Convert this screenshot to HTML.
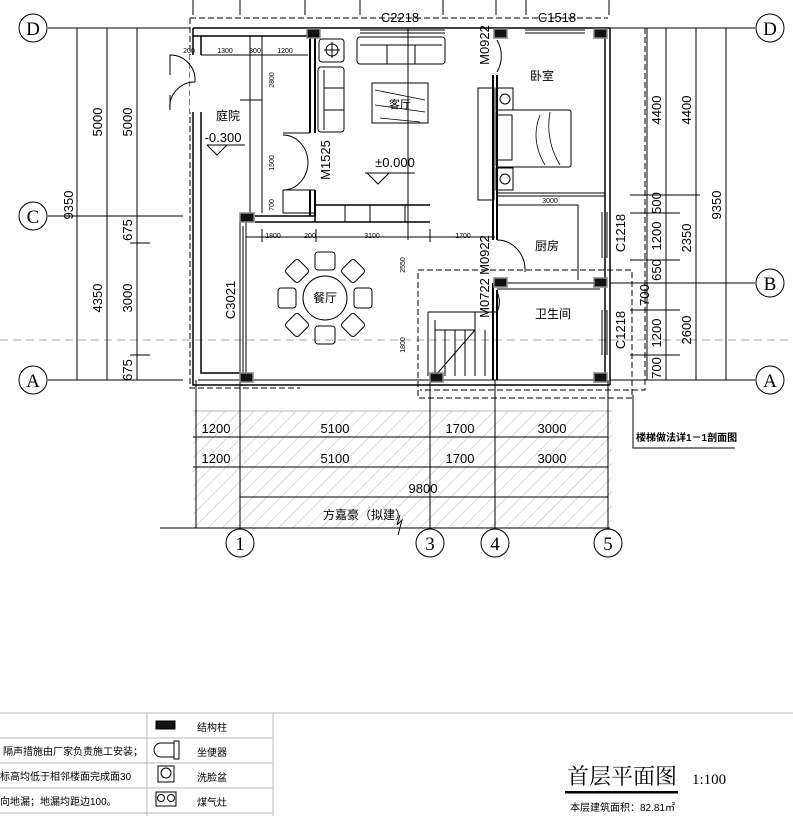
<!DOCTYPE html>
<html><head><meta charset="utf-8"><style>
html,body{margin:0;padding:0;background:#fff;}
svg{display:block;font-family:"Liberation Sans","Noto Sans CJK SC",sans-serif;}
</style></head><body>
<svg width="793" height="816" viewBox="0 0 793 816" xmlns="http://www.w3.org/2000/svg">
<defs>
<pattern id="h" width="10" height="10" patternUnits="userSpaceOnUse" patternTransform="rotate(45)">
<line x1="0" y1="0" x2="0" y2="10" stroke="#999" stroke-width="0.7"/></pattern>
</defs>
<g stroke="#000" fill="none" stroke-width="1">
<path d="M193 0V15M240 0V15M305 0V15M360 0V15M443 0V15M496 0V15M526 0V15M609 0V15"/>
<line x1="0" y1="340" x2="793" y2="340" stroke="#aaa" stroke-dasharray="8,5"/>
<path d="M48 28H190M48 216H183M48 380H183M610 28H755M610 283H755M610 380H755"/>
<path d="M77 28V380M107 28V380M137 28V380M70 28H150M70 216H150M130 243H150M130 355H150M70 380H150"/>
<path d="M647 28V380M666 28V380M696 28V380M726 28V380M630 195H700M630 213H680M630 260H680M630 283H740M630 310H680M630 355H680M630 380H740M640 28H740"/>
<path stroke-dasharray="6,3" d="M190 18H608M190 18V388H300M645 28V390H420M418 270H632V398H418V270"/>
<path stroke-width="1.5" d="M193 28H610M193 36H308M193 28V385H610M201 36V373H240M610 28V385M605 36V380"/>
<path d="M198 380H605"/>
<path d="M360 30H445M360 33H445M525 30H585M525 33H585"/>
<path fill="#fff" stroke="none" d="M190 55H203V112H190Z"/>
<path d="M170 55A25 25 0 0 1 195 82M170 110A25 25 0 0 1 195 82M170 55V75M170 95V110"/>
<path d="M201 36H310M201 55H308M250 36V213M262 36V213M240 100H262"/>
<path stroke-width="2" d="M310 36V133M315 36V133M310 190V216M315 190V216"/>
<path d="M283 133H310M283 190H315M283 190V213H315M283 135A25 28 0 0 1 308 162M283 190A25 28 0 0 0 308 162"/>
<path stroke-width="1.5" d="M255 216H315M255 222H430M315 205H430M315 205V222"/>
<path d="M345 205V222M370 205V222M405 205V222"/>
<path d="M240 222V380M246 222V380M243 226V376"/>
<path d="M246 237H495M262 229V242M316 229V242M430 229V242"/>
<line x1="408" y1="28" x2="408" y2="240"/>
<path stroke-width="2" d="M493 75V240M497 75V193M497 193V240M493 283V380M497 290V380"/>
<path d="M497 193H605M497 196H605M497 283H600M497 289H600M497 205H578V280"/>
<path d="M497 40A28 30 0 0 1 497 72M497 240A28 30 0 0 1 525 272M497 292A22 22 0 0 1 497 312"/>
<path d="M602 212V258M607 212V258M602 310V355M607 310V355"/>
<path d="M428 312H496M428 312V376M435 320V376M435 330H475M475 312V376M445 330V376M455 330V376M465 330V376M485 330V376M435 376L475 330"/>
<path d="M633 395V448H735"/>
</g>
<rect x="193" y="411" width="419" height="117" fill="url(#h)"/>
<g stroke="#000" fill="none">
<path d="M193 411H612" stroke="#bbb"/>
<path d="M193 437H608M193 467H608M240 497H608M160 528H610M400 515L397 525L402 520L398 535"/>
<path d="M196 380V528M240 380V528M430 380V528M495 380V528M608 380V528"/>
</g>
<g fill="#111" stroke="#888" stroke-width="1.5">
<rect x="307" y="29" width="13" height="9"/><rect x="494" y="29" width="13" height="9"/><rect x="594" y="29" width="13" height="9"/>
<rect x="240" y="213" width="14" height="9"/><rect x="494" y="278" width="13" height="9"/><rect x="594" y="278" width="13" height="9"/>
<rect x="240" y="373" width="13" height="9"/><rect x="430" y="373" width="13" height="9"/><rect x="594" y="373" width="13" height="9"/>
</g>
<g stroke="#000" fill="none">
<rect x="319" y="39" width="25" height="23" rx="3"/><circle cx="332" cy="50" r="6"/><path d="M324 50H340M332 42V58"/>
<rect x="318" y="67" width="26" height="65" rx="3"/><path d="M324 70V130M324 88H344M324 110H344"/>
<rect x="357" y="37" width="88" height="27" rx="3"/><path d="M360 45H442M387 45V64M415 45V64"/>
<rect x="372" y="83" width="56" height="40"/>
<path d="M375 90L425 100M375 105L425 112M380 118L420 122" stroke-width="0.8"/>
<rect x="478" y="88" width="16" height="112"/><rect x="496" y="88" width="17" height="22"/><rect x="496" y="168" width="17" height="22"/>
<circle cx="505" cy="99" r="5"/><circle cx="505" cy="179" r="5"/>
<rect x="496" y="110" width="75" height="57" rx="2"/><rect x="497" y="115" width="15" height="45"/>
<path d="M540 115Q530 140 545 165M550 112Q545 140 560 165" stroke-width="0.8"/>
<circle cx="325" cy="298" r="22"/>
<rect x="315" y="252" width="20" height="18" rx="3"/><rect x="315" y="326" width="20" height="18" rx="3"/>
<rect x="278" y="288" width="18" height="20" rx="3"/><rect x="354" y="288" width="18" height="20" rx="3"/>
<rect x="288" y="262" width="18" height="18" rx="3" transform="rotate(45 297 271)"/>
<rect x="344" y="262" width="18" height="18" rx="3" transform="rotate(45 353 271)"/>
<rect x="288" y="316" width="18" height="18" rx="3" transform="rotate(45 297 325)"/>
<rect x="344" y="316" width="18" height="18" rx="3" transform="rotate(45 353 325)"/>
<path d="M365 173H415M367 173L378 184L389 173M207 145H245M207 145L217 155L227 145"/>
</g>
<g stroke="#000" fill="#fff">
<circle cx="33" cy="28" r="14"/><circle cx="33" cy="216" r="14"/><circle cx="33" cy="380" r="14"/>
<circle cx="770" cy="28" r="14"/><circle cx="770" cy="283" r="14"/><circle cx="770" cy="380" r="14"/>
<circle cx="240" cy="543" r="14"/><circle cx="430" cy="543" r="14"/><circle cx="495" cy="543" r="14"/><circle cx="608" cy="543" r="14"/>
</g>
<g font-family="Liberation Serif,serif" font-size="19" text-anchor="middle" fill="#000">
<text x="33" y="35">D</text><text x="33" y="223">C</text><text x="33" y="387">A</text>
<text x="770" y="35">D</text><text x="770" y="290">B</text><text x="770" y="387">A</text>
<text x="240" y="550">1</text><text x="430" y="550">3</text><text x="495" y="550">4</text><text x="608" y="550">5</text>
</g>
<g font-size="13" text-anchor="middle" fill="#000">
<text transform="translate(73,205) rotate(-90)">9350</text>
<text transform="translate(102,122) rotate(-90)">5000</text>
<text transform="translate(132,122) rotate(-90)">5000</text>
<text transform="translate(102,298) rotate(-90)">4350</text>
<text transform="translate(132,298) rotate(-90)">3000</text>
<text transform="translate(132,230) rotate(-90)">675</text>
<text transform="translate(132,370) rotate(-90)">675</text>
<text transform="translate(661,110) rotate(-90)">4400</text>
<text transform="translate(691,110) rotate(-90)">4400</text>
<text transform="translate(721,205) rotate(-90)">9350</text>
<text transform="translate(661,203) rotate(-90)">500</text>
<text transform="translate(661,236) rotate(-90)">1200</text>
<text transform="translate(661,270) rotate(-90)">650</text>
<text transform="translate(649,295) rotate(-90)">700</text>
<text transform="translate(661,333) rotate(-90)">1200</text>
<text transform="translate(661,368) rotate(-90)">700</text>
<text transform="translate(691,238) rotate(-90)">2350</text>
<text transform="translate(691,330) rotate(-90)">2600</text>
<text transform="translate(625,233) rotate(-90)">C1218</text>
<text transform="translate(625,330) rotate(-90)">C1218</text>
<text transform="translate(235,300) rotate(-90)">C3021</text>
<text transform="translate(330,160) rotate(-90)">M1525</text>
<text transform="translate(489,45) rotate(-90)">M0922</text>
<text transform="translate(489,255) rotate(-90)">M0922</text>
<text transform="translate(489,298) rotate(-90)">M0722</text>
<text x="400" y="22">C2218</text><text x="557" y="22">C1518</text>
<text x="223" y="142">-0.300</text><text x="395" y="167">±0.000</text>
<text x="216" y="433">1200</text><text x="335" y="433">5100</text><text x="460" y="433">1700</text><text x="552" y="433">3000</text>
<text x="216" y="463">1200</text><text x="335" y="463">5100</text><text x="460" y="463">1700</text><text x="552" y="463">3000</text>
<text x="423" y="493">9800</text>
</g>
<g font-size="7" text-anchor="middle" fill="#000">
<text x="189" y="53">200</text><text x="225" y="53">1300</text><text x="255" y="53">300</text><text x="285" y="53">1200</text>
<text x="273" y="238">1800</text><text x="310" y="238">200</text><text x="372" y="238">3100</text><text x="463" y="238">1700</text>
<text x="550" y="203">3000</text>
<text transform="translate(274,80) rotate(-90)">2800</text>
<text transform="translate(274,163) rotate(-90)">1500</text>
<text transform="translate(274,205) rotate(-90)">700</text>
<text transform="translate(405,265) rotate(-90)">2550</text>
<text transform="translate(405,345) rotate(-90)">1800</text>
</g>
<g font-size="12" text-anchor="middle" fill="#000">
<text x="228" y="120">庭院</text><text x="542" y="80">卧室</text><text x="547" y="250">厨房</text>
<text x="553" y="318">卫生间</text><text x="325" y="302">餐厅</text><text x="400" y="108" font-size="11">客厅</text>
<text x="365" y="519">方嘉豪（拟建）</text>
</g>
<text x="636" y="441" font-size="10" font-weight="bold">楼梯做法详1－1剖面图</text>
<g stroke="#bbb" fill="none">
<path d="M0 713H793M0 738H273M0 763H273M0 788H273M0 813H273M147 713V816M273 713V816"/>
</g>
<g fill="#000" font-size="10">
<text x="3" y="755">隔声措施由厂家负责施工安装；</text>
<text x="0" y="780">标高均低于相邻楼面完成面30</text>
<text x="0" y="805">向地漏；地漏均距边100。</text>
<text x="197" y="731">结构柱</text><text x="197" y="756">坐便器</text><text x="197" y="781">洗脸盆</text><text x="197" y="806">煤气灶</text>
</g>
<g stroke="#000" fill="none">
<rect x="156" y="721" width="19" height="8" fill="#111"/>
<path d="M174 743H161A7 7 0 0 0 161 757H174Z"/><rect x="174" y="741" width="5" height="18"/>
<rect x="158" y="766" width="16" height="16"/><circle cx="166" cy="773" r="5"/>
<rect x="156" y="792" width="20" height="14"/><circle cx="161" cy="798" r="3.5"/><circle cx="171" cy="798" r="3.5"/>
</g>
<text x="567" y="784" font-size="22" font-family="Liberation Serif,'Noto Serif CJK SC',serif">首层平面图</text>
<text x="692" y="784" font-size="15" font-family="Liberation Serif,serif">1:100</text>
<rect x="565" y="791" width="113" height="2.5" fill="#000"/>
<text x="570" y="811" font-size="10">本层建筑面积：82.81㎡</text>
</svg>
</body></html>
